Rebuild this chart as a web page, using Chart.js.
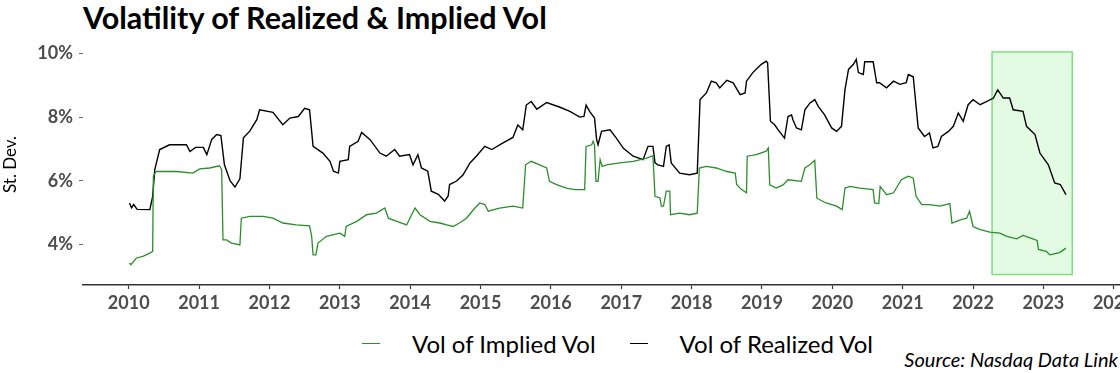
<!DOCTYPE html>
<html>
<head>
<meta charset="utf-8">
<script src="https://cdn.jsdelivr.net/npm/chart.js@4.4.0/dist/chart.umd.min.js"></script>
<style>
  html, body { margin: 0; padding: 0; background: #fff; }
  body { width: 1120px; height: 373px; overflow: hidden; position: relative; font-family: Lato, sans-serif; }
  #title { position: absolute; left: 83px; top: -1px; font-size: 30.5px; font-weight: 700; line-height: 36px; color: #000; }
  #wrap { position: absolute; left: 0; top: 0; width: 1160px; height: 315px; }
  #legend { position: absolute; left: 362px; top: 329px; height: 28px; display: flex; align-items: center; font-size: 24px; color: #000; }
  #legend .item { display: flex; align-items: center; margin-right: 34px; }
  #legend .swatch { width: 18px; height: 0; border-top: 1.5px solid; margin-right: 32px; }
  #source { position: absolute; right: 2px; top: 347px; font-size: 20px; font-style: italic; color: #000; }
</style>
</head>
<body>
<div id="title">Volatility of Realized &amp; Implied Vol</div>
<div id="wrap"><canvas id="chart"></canvas></div>
<div id="legend"></div>
<div id="source">Source: Nasdaq Data Link</div>
<script>
// Vol of Implied Vol (decimal year, % st. dev.)
const impliedDates = [2010.01, 2010.03, 2010.11, 2010.20, 2010.30, 2010.34, 2010.35, 2010.39, 2010.68, 2010.91,
  2011.01, 2011.15, 2011.29, 2011.32, 2011.34, 2011.39, 2011.46, 2011.58, 2011.60, 2011.72, 2011.91,
  2012.05, 2012.19, 2012.38, 2012.57, 2012.60, 2012.62, 2012.66, 2012.69, 2012.81,
  2013.00, 2013.07, 2013.09, 2013.24, 2013.38, 2013.52, 2013.64, 2013.69, 2013.81, 2013.95,
  2014.02, 2014.07, 2014.14, 2014.28, 2014.42, 2014.52, 2014.61, 2014.70, 2014.80, 2014.92, 2014.99,
  2015.06, 2015.11, 2015.27, 2015.46, 2015.60, 2015.64, 2015.72, 2015.84, 2015.94, 2015.98,
  2016.08, 2016.22, 2016.34, 2016.48, 2016.50, 2016.58, 2016.60, 2016.62, 2016.64, 2016.67, 2016.70, 2016.73, 2016.79, 2016.98,
  2017.17, 2017.36, 2017.45, 2017.48, 2017.55, 2017.57, 2017.60, 2017.64, 2017.69, 2017.70, 2017.83, 2017.97,
  2018.08, 2018.11, 2018.21, 2018.35, 2018.50, 2018.62, 2018.64, 2018.71, 2018.78, 2018.79, 2018.92,
  2019.06, 2019.09, 2019.11, 2019.20, 2019.30, 2019.37, 2019.56, 2019.61, 2019.68, 2019.75, 2019.78, 2019.91,
  2020.06, 2020.14, 2020.18, 2020.25, 2020.39, 2020.58, 2020.60, 2020.66, 2020.68, 2020.77, 2020.87, 2020.98,
  2021.08, 2021.15, 2021.19, 2021.27, 2021.38, 2021.53, 2021.67, 2021.70, 2021.82, 2021.91, 2021.95,
  2022.00, 2022.10, 2022.24, 2022.38, 2022.48, 2022.62, 2022.71, 2022.81, 2022.91, 2022.93,
  2023.04, 2023.09, 2023.23, 2023.32];
const impliedVals = [3.41, 3.36, 3.57, 3.62, 3.72, 3.78, 6.14, 6.29, 6.29, 6.24,
  6.37, 6.40, 6.47, 6.35, 4.14, 4.14, 4.04, 3.98, 4.82, 4.88, 4.88,
  4.82, 4.67, 4.61, 4.58, 4.25, 3.67, 3.67, 4.04, 4.25,
  4.35, 4.25, 4.56, 4.72, 4.93, 4.98, 5.14, 4.82, 4.72, 4.61,
  4.93, 5.14, 4.93, 4.72, 4.67, 4.61, 4.56, 4.67, 4.82, 5.14, 5.30,
  5.25, 5.04, 5.14, 5.20, 5.14, 6.50, 6.61, 6.50, 6.40, 5.98,
  5.88, 5.77, 5.72, 5.72, 7.08, 7.13, 7.24, 7.13, 5.98, 5.98, 6.66, 6.45, 6.50, 6.56,
  6.61, 6.71, 6.79, 5.51, 5.46, 5.20, 5.20, 5.67, 5.67, 4.93, 4.98, 4.93,
  4.98, 6.40, 6.45, 6.40, 6.29, 6.24, 5.88, 5.72, 5.62, 6.77, 6.82,
  6.93, 7.03, 5.87, 5.77, 5.87, 6.03, 5.98, 6.40, 6.50, 6.64, 5.45, 5.30,
  5.20, 5.09, 5.77, 5.82, 5.77, 5.72, 5.30, 5.28, 5.82, 5.56, 5.62, 6.03,
  6.14, 6.08, 5.51, 5.25, 5.25, 5.20, 5.28, 4.67, 4.77, 4.82, 5.04,
  4.56, 4.46, 4.38, 4.35, 4.25, 4.17, 4.28, 4.20, 4.12, 3.84,
  3.78, 3.67, 3.74, 3.88];

// Vol of Realized Vol (decimal year, % st. dev.)
const realizedDates = [2010.01, 2010.04, 2010.07, 2010.12, 2010.30, 2010.34, 2010.37, 2010.44, 2010.58, 2010.82, 2010.87, 2010.95,
  2011.06, 2011.11, 2011.18, 2011.25, 2011.31, 2011.36, 2011.44, 2011.51, 2011.58, 2011.63, 2011.72, 2011.82, 2011.86,
  2012.05, 2012.19, 2012.29, 2012.41, 2012.50, 2012.57, 2012.62, 2012.76, 2012.86, 2012.91, 2012.98,
  2013.00, 2013.12, 2013.14, 2013.26, 2013.31, 2013.43, 2013.57, 2013.66, 2013.78, 2013.85, 2013.99,
  2014.04, 2014.11, 2014.16, 2014.25, 2014.30, 2014.40, 2014.49, 2014.54, 2014.56, 2014.66, 2014.75, 2014.85, 2014.94,
  2015.06, 2015.16, 2015.32, 2015.46, 2015.53, 2015.60, 2015.65, 2015.72, 2015.80, 2015.94,
  2016.13, 2016.27, 2016.41, 2016.47, 2016.50, 2016.55, 2016.62, 2016.65, 2016.67, 2016.72, 2016.84, 2016.93,
  2017.03, 2017.17, 2017.31, 2017.38, 2017.45, 2017.48, 2017.52, 2017.60, 2017.64, 2017.68, 2017.71, 2017.83, 2017.97,
  2018.08, 2018.12, 2018.21, 2018.28, 2018.35, 2018.40, 2018.50, 2018.59, 2018.69, 2018.76, 2018.78, 2018.87, 2018.99,
  2019.06, 2019.08, 2019.12, 2019.18, 2019.23, 2019.32, 2019.37, 2019.42, 2019.44, 2019.49, 2019.56, 2019.61, 2019.68, 2019.75, 2019.80, 2019.89, 2019.99,
  2020.06, 2020.13, 2020.18, 2020.23, 2020.30, 2020.34, 2020.37, 2020.44, 2020.46, 2020.58, 2020.63, 2020.67, 2020.77, 2020.87, 2020.96,
  2021.05, 2021.08, 2021.15, 2021.22, 2021.31, 2021.38, 2021.43, 2021.50, 2021.55, 2021.65, 2021.72, 2021.79, 2021.86, 2021.93,
  2022.00, 2022.10, 2022.19, 2022.29, 2022.35, 2022.43, 2022.52, 2022.57, 2022.71, 2022.76, 2022.88, 2022.95,
  2023.07, 2023.16, 2023.24, 2023.32];
const realizedVals = [5.30, 5.15, 5.25, 5.10, 5.09, 5.51, 6.35, 6.98, 7.13, 7.13, 6.92, 7.05,
  7.05, 6.82, 7.30, 7.45, 7.42, 6.50, 6.00, 5.80, 6.06, 7.35, 7.56, 7.92, 8.23,
  8.15, 7.76, 7.97, 8.02, 8.28, 8.23, 7.08, 6.87, 6.61, 6.30, 6.24,
  6.61, 6.66, 7.08, 7.24, 7.52, 7.29, 6.87, 6.77, 6.98, 6.77, 6.82,
  6.50, 6.82, 6.40, 6.30, 5.67, 5.57, 5.36, 5.52, 5.88, 5.99, 6.18, 6.56, 6.77,
  7.08, 6.98, 7.19, 7.36, 7.75, 7.60, 8.38, 8.49, 8.25, 8.46,
  8.31, 8.18, 8.00, 8.02, 8.38, 8.18, 7.97, 7.29, 7.13, 7.55, 7.60, 7.34,
  7.02, 6.77, 6.66, 7.08, 7.08, 6.56, 6.50, 6.45, 7.08, 7.13, 6.56, 6.24, 6.19,
  6.24, 8.55, 8.76, 9.13, 9.08, 8.92, 9.16, 9.08, 8.71, 8.76, 9.13, 9.40, 9.66,
  9.76, 9.71, 7.87, 7.76, 7.60, 7.34, 8.02, 8.07, 7.92, 7.66, 7.60, 8.23, 8.44, 8.55, 8.34, 8.07, 7.66,
  7.55, 7.71, 8.87, 9.50, 9.66, 9.82, 9.40, 9.34, 9.74, 9.74, 9.08, 9.08, 8.92, 9.13, 9.03,
  9.08, 9.34, 9.27, 7.66, 7.39, 7.50, 7.03, 7.08, 7.39, 7.55, 7.71, 8.13, 7.87, 8.39,
  8.55, 8.39, 8.49, 8.60, 8.86, 8.60, 8.60, 8.23, 8.18, 7.71, 7.45, 6.87,
  6.50, 5.93, 5.88, 5.56];

const xTickYears = [2010, 2011, 2012, 2013, 2014, 2015, 2016, 2017, 2018, 2019, 2020, 2021, 2022, 2023, 2024];
const yTickVals = [4, 6, 8, 10];

// highlighted window (x from / to, y from / to)
const highlightX = [2022.27, 2023.41];
const highlightY = [3.05, 10.05];

const toPoints = (xs, ys) => xs.map((x, i) => ({ x: x, y: ys[i] }));

const highlightBox = {
    id: 'highlightBox',
    beforeDatasetsDraw(chart) {
        const { ctx, scales: { x, y } } = chart;
        const left = x.getPixelForValue(highlightX[0]);
        const right = x.getPixelForValue(highlightX[1]);
        const top = y.getPixelForValue(highlightY[1]);
        const bottom = y.getPixelForValue(highlightY[0]);
        ctx.save();
        ctx.fillStyle = 'rgba(144, 238, 144, 0.25)';
        ctx.fillRect(left, top, right - left, bottom - top);
        ctx.strokeStyle = '#7fe07f';
        ctx.lineWidth = 1.5;
        ctx.strokeRect(left, top, right - left, bottom - top);
        ctx.restore();
    }
};

const tickFont = { family: 'Lato', size: 18, weight: 'bold' };

const chart = new Chart(document.getElementById('chart'), {
    type: 'line',
    data: {
        datasets: [{
            label: 'Vol of Implied Vol',
            data: toPoints(impliedDates, impliedVals),
            borderColor: '#2a8f2a',
            borderWidth: 1.3,
            pointRadius: 0,
            tension: 0
        }, {
            label: 'Vol of Realized Vol',
            data: toPoints(realizedDates, realizedVals),
            borderColor: '#000000',
            borderWidth: 1.4,
            pointRadius: 0,
            tension: 0
        }]
    },
    options: {
        responsive: true,
        maintainAspectRatio: false,
        animation: false,
        layout: { padding: { top: 44, right: 4, left: 0, bottom: 0 } },
        plugins: {
            legend: { display: false },
            tooltip: { enabled: false }
        },
        scales: {
            x: {
                type: 'linear',
                min: 2009.35,
                max: 2024.6,
                afterBuildTicks: (axis) => { axis.ticks = xTickYears.map(v => ({ value: v })); },
                afterFit: (axis) => { axis.height = 30; },
                border: { display: true, color: '#333', width: 1.5 },
                grid: { drawOnChartArea: false, drawTicks: true, tickLength: 4, tickColor: '#333', tickWidth: 1.2 },
                ticks: {
                    color: '#4d4d4d',
                    font: tickFont,
                    padding: 3,
                    maxRotation: 0,
                    autoSkip: false,
                    callback: (v) => String(v)
                }
            },
            y: {
                min: 2.72,
                max: 10.3,
                afterBuildTicks: (axis) => { axis.ticks = yTickVals.map(v => ({ value: v })); },
                afterFit: (axis) => { axis.width = 83; },
                border: { display: false },
                grid: { drawOnChartArea: false, drawTicks: true, tickLength: 4, tickColor: '#666', tickWidth: 1 },
                ticks: {
                    color: '#4d4d4d',
                    font: tickFont,
                    padding: 6,
                    callback: (v) => v + '%'
                },
                title: {
                    display: true,
                    text: 'St. Dev.',
                    color: '#000',
                    font: { family: 'Lato', size: 17 },
                    padding: { top: 0, bottom: 0 }
                }
            }
        }
    },
    plugins: [highlightBox]
});

// legend built from the datasets
const legend = document.getElementById('legend');
chart.data.datasets.forEach(ds => {
    const item = document.createElement('div');
    item.className = 'item';
    const sw = document.createElement('span');
    sw.className = 'swatch';
    sw.style.borderTopColor = ds.borderColor;
    const txt = document.createElement('span');
    txt.textContent = ds.label;
    item.appendChild(sw);
    item.appendChild(txt);
    legend.appendChild(item);
});
</script>
</body>
</html>
